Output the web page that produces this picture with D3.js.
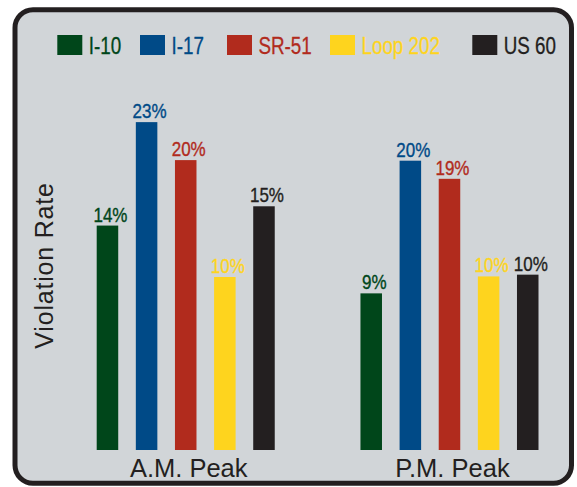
<!DOCTYPE html>
<html>
<head>
<meta charset="utf-8">
<script src="https://cdn.jsdelivr.net/npm/d3@7"></script>
<style>
  html, body { margin: 0; padding: 0; background: #ffffff; }
  svg { display: block; }
  text { font-family: 'Liberation Sans', Arial, sans-serif; }
</style>
</head>
<body>
<svg id="chart" width="577" height="487"></svg>
<script>
// ---- data ----
const series = ["I-10", "I-17", "SR-51", "Loop 202", "US 60"];
const seriesColors = ["#00461a", "#004a87", "#b12b1d", "#fed41e", "#231f20"];
const periods = ["A.M. Peak", "P.M. Peak"];
const amValues = [14.3, 23.15, 19.9, 9.9, 15.95];
const pmValues = [8.5, 19.85, 18.3, 9.95, 10.1];
const amLabels = ["14%", "23%", "20%", "10%", "15%"];
const pmLabels = ["9%", "20%", "19%", "10%", "10%"];
const yTitle = "Violation Rate";

// ---- layout ----
const legendX = [57.3, 140, 227, 330, 472.3];
const condensed = 0.8;

const rows = [
  { period: periods[0], values: amValues, labels: amLabels },
  { period: periods[1], values: pmValues, labels: pmLabels }
];

const svg = d3.select("#chart");

// panel
svg.append("rect")
  .attr("x", 15).attr("y", 9.7)
  .attr("width", 556.5).attr("height", 473.5)
  .attr("rx", 18).attr("ry", 18)
  .attr("fill", "#d1d5d8")
  .attr("stroke", "#231f20")
  .attr("stroke-width", 5);

// scales
const x0 = d3.scaleBand().domain(periods).range([96.7, 538.5]).paddingInner(0.325).paddingOuter(0);
const x1 = d3.scaleBand().domain(series).range([0, x0.bandwidth()]).paddingInner(0.45).paddingOuter(0);
const y = d3.scaleLinear().domain([-4.9, 25]).range([450, 100.5]);
const color = d3.scaleOrdinal().domain(series).range(seriesColors);

// bars
const groups = svg.selectAll("g.grp").data(rows).join("g")
  .attr("class", "grp")
  .attr("transform", d => `translate(${x0(d.period)},0)`);

const items = d => series.map((s, i) => ({ s, v: d.values[i], label: d.labels[i] }));

groups.selectAll("rect").data(items).join("rect")
  .attr("x", d => x1(d.s))
  .attr("width", x1.bandwidth())
  .attr("y", d => y(d.v))
  .attr("height", d => y.range()[0] - y(d.v))
  .attr("fill", d => color(d.s));

groups.selectAll("g.val").data(items).join("g")
  .attr("class", "val")
  .attr("transform", d => `translate(${x1(d.s) + x1.bandwidth() / 2 + 3},${y(d.v) - 4}) scale(0.85,1)`)
  .append("text")
  .attr("text-anchor", "middle")
  .attr("font-size", 20)
  .attr("fill", d => color(d.s))
  .attr("stroke", d => color(d.s))
  .attr("stroke-width", 0.35)
  .text(d => d.label);

// x category labels
const xAxis = svg.append("g").attr("transform", "translate(0,450)")
  .call(d3.axisBottom(x0).tickSize(0).tickPadding(0));
xAxis.select(".domain").remove();
xAxis.selectAll("text")
  .attr("font-family", "'Liberation Sans', Arial, sans-serif")
  .attr("font-size", 25.5)
  .attr("fill", "#231f20")
  .attr("dy", 0)
  .attr("y", 26.7)
  .attr("dx", 3);

// y title
svg.append("text")
  .attr("transform", "translate(52.5,265.5) rotate(-90)")
  .attr("text-anchor", "middle")
  .attr("font-size", 25)
  .attr("letter-spacing", 0.8)
  .attr("fill", "#231f20")
  .text(yTitle);

// legend
const legend = svg.append("g");
series.forEach((s, i) => {
  const g = legend.append("g").attr("transform", `translate(${legendX[i]},0)`);
  g.append("rect").attr("x", 0).attr("y", 35).attr("width", 25).attr("height", 20).attr("fill", color(s));
  g.append("g").attr("transform", `translate(31.5,53.7) scale(${condensed},1)`)
    .append("text")
    .attr("font-size", 23.5)
    .attr("fill", color(s))
    .attr("stroke", color(s))
    .attr("stroke-width", 0.3)
    .text(s);
});
</script>
</body>
</html>
